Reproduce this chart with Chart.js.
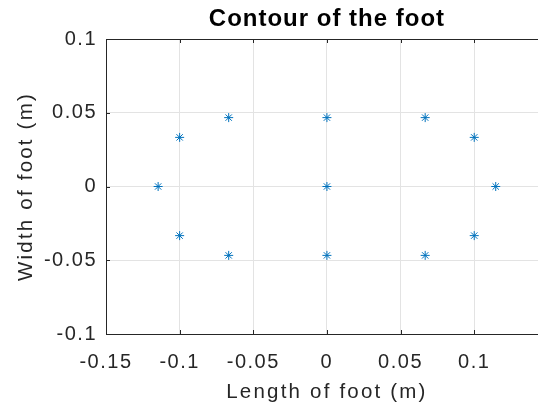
<!DOCTYPE html>
<html>
<head>
<meta charset="utf-8">
<script src="https://cdn.jsdelivr.net/npm/chart.js@4/dist/chart.umd.min.js"></script>
<style>
  html, body { margin: 0; padding: 0; background: #fff; overflow: hidden; }
  #wrap { width: 538px; height: 409px; position: relative; }
</style>
</head>
<body>
<div id="wrap"><canvas id="foot"></canvas></div>
<script>
// contour points (m)
const footX = [-0.1146, -0.1, -0.1, -0.0667, -0.0667, 0, 0, 0, 0.0667, 0.0667, 0.1, 0.1, 0.1146];
const footY = [0, 0.0333, -0.0333, 0.0467, -0.0467, 0.0467, 0, -0.0467, 0.0467, -0.0467, 0.0333, -0.0333, 0];
const xTickValues = [-0.15, -0.1, -0.05, 0, 0.05, 0.1];
const yTickValues = [-0.1, -0.05, 0, 0.05, 0.1];

const FONT = "'Liberation Sans', Arial, sans-serif";
const AXIS = "#262626";
const fmt = (v) => String(Number(v.toFixed(3)));

// MATLAB-ish text is spaced wider than canvas default
const spacing = {
  id: "spacing",
  beforeDraw(chart) { chart.ctx.letterSpacing = "1.5px"; },
  afterDraw(chart) { chart.ctx.letterSpacing = "0px"; },
};

const overlay = {
  id: "overlay",
  afterDraw(chart) {
    const { ctx, chartArea } = chart;
    const xs = chart.scales.x;
    const ys = chart.scales.y;
    ctx.save();
    ctx.strokeStyle = AXIS;
    ctx.lineWidth = 1;
    ctx.beginPath();
    ctx.moveTo(chartArea.left, chartArea.top + 0.5);
    ctx.lineTo(chartArea.right, chartArea.top + 0.5);
    ctx.stroke();
    // inward ticks
    ctx.beginPath();
    xTickValues.forEach((v) => {
      const px = Math.round(xs.getPixelForValue(v)) + 0.5;
      ctx.moveTo(px, chartArea.bottom);
      ctx.lineTo(px, chartArea.bottom - 4);
      ctx.moveTo(px, chartArea.top);
      ctx.lineTo(px, chartArea.top + 4);
    });
    yTickValues.forEach((v) => {
      const py = Math.round(ys.getPixelForValue(v)) + 0.5;
      ctx.moveTo(chartArea.left, py);
      ctx.lineTo(chartArea.left + 4, py);
    });
    ctx.stroke();
    // title and axis labels, centred on the full axes
    const cx = xs.getPixelForValue(0);
    const cy = ys.getPixelForValue(0);
    ctx.textAlign = "center";
    ctx.textBaseline = "middle";
    ctx.fillStyle = "#000";
    ctx.letterSpacing = "1px";
    ctx.font = "bold 24px " + FONT;
    ctx.fillText("Contour of the foot", cx, 19);
    ctx.fillStyle = AXIS;
    ctx.letterSpacing = "2.2px";
    ctx.font = "20.5px " + FONT;
    ctx.fillText("Length of foot (m)", cx, 392);
    ctx.translate(26, cy);
    ctx.rotate(-Math.PI / 2);
    ctx.fillText("Width of foot (m)", 0, 0);
    ctx.restore();
  },
};

new Chart(document.getElementById("foot"), {
  type: "scatter",
  data: {
    datasets: [
      {
        data: footX.map((x, i) => ({ x: x, y: footY[i] })),
        pointStyle: "star",
        pointRadius: 4.5,
        pointBorderWidth: 1,
        borderColor: "#0072BD",
        backgroundColor: "#0072BD",
      },
    ],
  },
  options: {
    responsive: true,
    maintainAspectRatio: false,
    animation: false,
    layout: { autoPadding: false, padding: { top: 39, left: 0, right: 0, bottom: 0 } },
    plugins: { legend: { display: false }, tooltip: { enabled: false } },
    scales: {
      x: {
        type: "linear",
        min: -0.15,
        max: 0.1433,
        afterBuildTicks: (s) => { s.ticks = xTickValues.map((v) => ({ value: v })); },
        afterFit: (s) => { s.height = 75; s.paddingLeft = 0; s.paddingRight = 0; },
        grid: { color: "#e3e3e3", drawTicks: false },
        border: { color: AXIS },
        ticks: { color: AXIS, padding: 16, font: { family: FONT, size: 20 }, callback: (v) => fmt(v), maxRotation: 0 },
      },
      y: {
        type: "linear",
        min: -0.1,
        max: 0.1,
        afterBuildTicks: (s) => { s.ticks = yTickValues.map((v) => ({ value: v })); },
        afterFit: (s) => { s.width = 106; s.paddingTop = 0; s.paddingBottom = 0; },
        grid: { color: "#e3e3e3", drawTicks: false },
        border: { color: AXIS },
        ticks: { color: AXIS, padding: 9, font: { family: FONT, size: 20 }, callback: (v) => fmt(v) },
      },
    },
  },
  plugins: [spacing, overlay],
});
</script>
</body>
</html>
